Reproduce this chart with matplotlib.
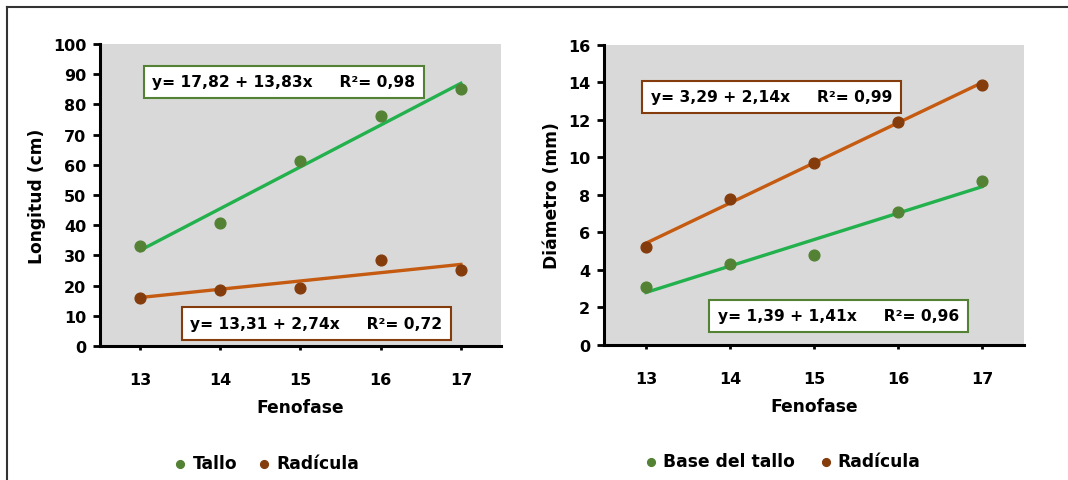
import matplotlib
matplotlib.use("Agg")
import matplotlib.pyplot as plt
from matplotlib.lines import Line2D

# ---- data ----
fenofase = [13, 14, 15, 16, 17]
long_tallo = [33.0, 40.8, 61.2, 76.2, 85.0]
long_radicula = [16.0, 18.5, 19.2, 28.5, 25.0]
diam_base = [3.1, 4.3, 4.8, 7.1, 8.75]
diam_radicula = [5.2, 7.8, 9.7, 11.9, 13.85]

# fitted equations (x = index 1..5)
fit_long_tallo = (17.82, 13.83)
fit_long_radicula = (13.31, 2.74)
fit_diam_base = (1.39, 1.41)
fit_diam_radicula = (3.29, 2.14)

eq_long_tallo = "y= 17,82 + 13,83x     R²= 0,98"
eq_long_radicula = "y= 13,31 + 2,74x     R²= 0,72"
eq_diam_radicula = "y= 3,29 + 2,14x     R²= 0,99"
eq_diam_base = "y= 1,39 + 1,41x     R²= 0,96"

# ---- style ----
plt.rcParams['font.family'] = ['DejaVu Sans']
plt.rcParams['font.weight'] = 'bold'
GREEN_PT = '#548235'
GREEN_LN = '#22B14C'
BROWN_PT = '#843C0C'
BROWN_LN = '#C55A11'
GRAY = '#D9D9D9'
TICK_FS = 11.5
LAB_FS = 12.3
EQ_FS = 11.2
LEG_FS = 12.3

fig = plt.figure(figsize=(10.68, 4.81), dpi=100)
ax1 = fig.add_axes([0.0936, 0.2786, 0.3755, 0.628])
ax2 = fig.add_axes([0.5655, 0.2807, 0.3933, 0.6237])

# outer frame (top and left)
fig.add_artist(Line2D([7/1068, 1.0], [1-8/481, 1-8/481], transform=fig.transFigure, color='#333333', lw=1.5))
fig.add_artist(Line2D([7/1068, 7/1068], [0, 1-8/481], transform=fig.transFigure, color='#333333', lw=1.5))


def fit_line(coef, xs):
    a, b = coef
    return [a + b * (i + 1) for i in range(len(xs))]


def style_axes(ax, ylim, yticks, ylabel):
    ax.set_facecolor(GRAY)
    ax.set_xlim(12.5, 17.5)
    ax.set_ylim(*ylim)
    ax.set_yticks(yticks)
    ax.set_xticks(fenofase)
    for s in ['top', 'right']:
        ax.spines[s].set_visible(False)
    for s in ['left', 'bottom']:
        ax.spines[s].set_linewidth(2.2)
        ax.spines[s].set_color('black')
    ax.tick_params(axis='y', direction='out', length=5, width=2, labelsize=TICK_FS, pad=5)
    ax.tick_params(axis='x', direction='out', length=3, width=2, labelsize=TICK_FS, pad=16)
    for lab in ax.get_xticklabels() + ax.get_yticklabels():
        lab.set_fontweight('bold')
    ax.set_xlabel('Fenofase', fontsize=LAB_FS, fontweight='bold', labelpad=8)
    ax.set_ylabel(ylabel, fontsize=LAB_FS, fontweight='bold', labelpad=5)


def eq_box(ax, x, y, text, color):
    ax.text(x, y, text, transform=ax.transAxes, fontsize=EQ_FS, fontweight='bold',
            ha='left', va='center',
            bbox=dict(boxstyle='square,pad=0.55', fc='white', ec=color, lw=1.5))


def legend(ax, x, colsp):
    leg = ax.legend(loc='upper center', bbox_to_anchor=(x, -0.307), ncol=2, frameon=False,
                    fontsize=LEG_FS, handlelength=0.8, handletextpad=0.3,
                    columnspacing=colsp, markerscale=0.72)
    for t in leg.get_texts():
        t.set_fontweight('bold')


# ---- left ----
style_axes(ax1, (0, 100), range(0, 101, 10), 'Longitud (cm)')
ax1.plot(fenofase, fit_line(fit_long_tallo, fenofase), color=GREEN_LN, lw=2.4, zorder=2)
ax1.plot(fenofase, fit_line(fit_long_radicula, fenofase), color=BROWN_LN, lw=2.4, zorder=2)
ax1.scatter(fenofase, long_tallo, s=60, color=GREEN_PT, zorder=3, label='Tallo')
ax1.scatter(fenofase, long_radicula, s=60, color=BROWN_PT, zorder=3, label='Radícula')
eq_box(ax1, 0.13, 0.874, eq_long_tallo, GREEN_PT)
eq_box(ax1, 0.225, 0.0745, eq_long_radicula, BROWN_PT)
legend(ax1, 0.415, 1.2)

# ---- right ----
style_axes(ax2, (0, 16), range(0, 17, 2), 'Diámetro (mm)')
ax2.plot(fenofase, fit_line(fit_diam_radicula, fenofase), color=BROWN_LN, lw=2.4, zorder=2)
ax2.plot(fenofase, fit_line(fit_diam_base, fenofase), color=GREEN_LN, lw=2.4, zorder=2)
ax2.scatter(fenofase, diam_base, s=60, color=GREEN_PT, zorder=3, label='Base del tallo')
ax2.scatter(fenofase, diam_radicula, s=60, color=BROWN_PT, zorder=3, label='Radícula')
eq_box(ax2, 0.111, 0.827, eq_diam_radicula, BROWN_PT)
eq_box(ax2, 0.271, 0.098, eq_diam_base, GREEN_PT)
legend(ax2, 0.425, 1.4)

fig.savefig('out.png', dpi=100)
